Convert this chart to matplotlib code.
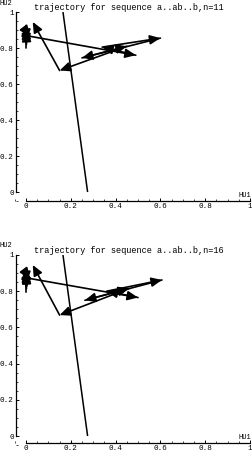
import matplotlib
matplotlib.use("Agg")
import matplotlib.pyplot as plt
from matplotlib.ticker import FixedLocator, FixedFormatter, MultipleLocator

plt.rcParams['font.family'] = ['Liberation Mono', 'DejaVu Sans Mono']

# initial step of the trajectory (runs off the top of the plot)
start_x = [0.275, 0.165]
start_y = [0.0, 1.0]

# hidden unit trajectory, n=11
traj11_x = [0.000, 0.000, 0.002, 0.000, 0.002, 0.000, 0.018, 0.490, 0.340, 0.600, 0.250, 0.450, 0.150, 0.030]
traj11_y = [0.800, 0.925, 0.820, 0.910, 0.845, 0.895, 0.865, 0.760, 0.805, 0.855, 0.745, 0.810, 0.675, 0.945]

# hidden unit trajectory, n=16
traj16_x = [0.000, 0.000, 0.002, 0.000, 0.002, 0.000, 0.018, 0.500, 0.360, 0.607, 0.263, 0.460, 0.150, 0.030]
traj16_y = [0.795, 0.925, 0.815, 0.910, 0.850, 0.900, 0.870, 0.765, 0.800, 0.862, 0.750, 0.815, 0.668, 0.945]

ticks = [0, 0.2, 0.4, 0.6, 0.8, 1]
tick_labels = ['0', '0.2', '0.4', '0.6', '0.8', '1']


def panel(ax, tx, ty, n, xaxis_y):
    ax.set_xlim(-0.08, 1.0)
    ax.set_ylim(-0.07, 1.0)
    ax.plot(start_x, start_y, color='k', lw=1.1, solid_capstyle='butt')
    for i in range(len(tx) - 1):
        ax.annotate('', xy=(tx[i + 1], ty[i + 1]), xytext=(tx[i], ty[i]),
                    arrowprops=dict(arrowstyle='-|>,head_length=0.45,head_width=0.2',
                                    mutation_scale=14, color='k', lw=1.2,
                                    shrinkA=0, shrinkB=0))
    for s in ['top', 'right']:
        ax.spines[s].set_visible(False)
    ax.spines['left'].set_position(('data', -0.045))
    ax.spines['bottom'].set_position(('data', xaxis_y))
    ax.spines['left'].set_bounds(0, 1)
    ax.spines['bottom'].set_bounds(0, 1)
    for s in ['left', 'bottom']:
        ax.spines[s].set_linewidth(0.9)
    for axis in [ax.xaxis, ax.yaxis]:
        axis.set_major_locator(FixedLocator(ticks))
        axis.set_major_formatter(FixedFormatter(tick_labels))
        axis.set_minor_locator(MultipleLocator(0.05))
    ax.tick_params(which='major', direction='in', length=2.5, width=0.7, labelsize=5.5, pad=1.5)
    ax.tick_params(which='minor', direction='in', length=1.2, width=0.5)
    ax.set_title('trajectory for sequence a..ab..b,n=%d' % n, fontsize=6.2, pad=1)
    ax.text(-0.09, 1.05, 'HU2', fontsize=5, ha='center', va='center', clip_on=False)
    ax.text(1.007, xaxis_y + 0.012, 'HU1', fontsize=5, ha='right', va='bottom', clip_on=False)


fig = plt.figure(figsize=(2.52, 4.53), dpi=100)
ax1 = fig.add_axes([0.0321, 0.5483, 0.960, 0.4252])
ax2 = fig.add_axes([0.0321, 0.0095, 0.960, 0.4276])
panel(ax1, traj11_x, traj11_y, 11, -0.05)
panel(ax2, traj16_x, traj16_y, 16, -0.039)

fig.savefig('out.png', dpi=100)
